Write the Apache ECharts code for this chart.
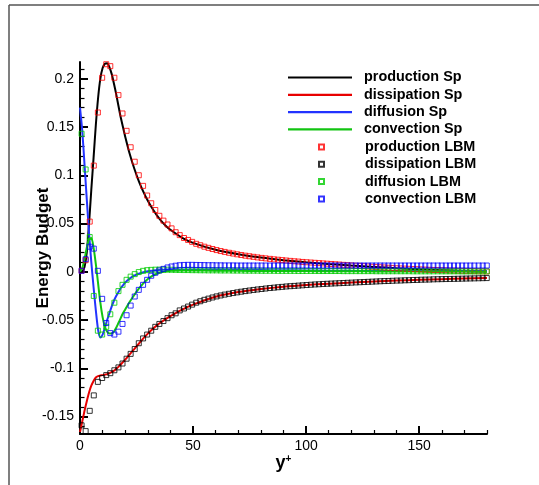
<!DOCTYPE html>
<html>
<head>
<meta charset="utf-8">
<script src="https://cdn.jsdelivr.net/npm/echarts@6/dist/echarts.min.js"></script>
<style>
html,body{margin:0;padding:0;background:#fff;}
#c{width:539px;height:485px;}
</style>
</head>
<body>
<div id="c"></div>
<script>
// ---- Data ----
const seriesNames = ['production Sp','dissipation Sp','diffusion Sp','convection Sp',
                     'production LBM','dissipation LBM','diffusion LBM','convection LBM'];

// Reference (Sp) curves: y+ positions and values
const spX = [0,1,2,3,4,5,6,7,8,9,10,11,12,13,14,15,16,17,18,19,20,22,24,26,28,30,32,34,36,38,40,45,50,60,70,80,90,100,110,120,130,140,150,160,170,180];
const productionSp = [0,0.0005,0.005,0.02,0.05,0.085,0.118,0.152,0.18,0.2,0.211,0.2155,0.216,0.212,0.205,0.195,0.184,0.172,0.16,0.15,0.14,0.122,0.107,0.094,0.083,0.0735,0.0655,0.0585,0.0525,0.0475,0.0435,0.0355,0.03,0.0228,0.0182,0.0147,0.012,0.0098,0.008,0.0064,0.005,0.0037,0.0026,0.0017,0.0009,0.0003];
const dissipationSp = [-0.166,-0.155,-0.144,-0.134,-0.125,-0.118,-0.113,-0.1095,-0.108,-0.1075,-0.107,-0.1065,-0.106,-0.105,-0.104,-0.1025,-0.1005,-0.0985,-0.096,-0.0935,-0.091,-0.0855,-0.08,-0.0745,-0.069,-0.064,-0.0595,-0.0555,-0.052,-0.0488,-0.046,-0.0395,-0.034,-0.0258,-0.021,-0.0179,-0.0155,-0.0137,-0.0123,-0.0112,-0.0101,-0.0091,-0.0083,-0.0076,-0.007,-0.0065];
const diffusionSp = [0.17,0.146,0.111,0.075,0.04,0.01,-0.016,-0.04,-0.06,-0.068,-0.065,-0.058,-0.05,-0.043,-0.036,-0.03,-0.025,-0.021,-0.017,-0.014,-0.011,-0.007,-0.004,-0.002,-0.0005,0.0005,0.0012,0.0017,0.002,0.0022,0.0024,0.0025,0.0025,0.0023,0.002,0.0018,0.0016,0.0014,0.0012,0.001,0.0009,0.0008,0.0007,0.0006,0.0005,0.0005];
const convectionSp = [0,0.004,0.013,0.025,0.034,0.035,0.025,0.008,-0.012,-0.032,-0.047,-0.057,-0.062,-0.064,-0.064,-0.062,-0.058,-0.053,-0.048,-0.043,-0.039,-0.031,-0.024,-0.0175,-0.012,-0.0075,-0.0042,-0.002,-0.0005,0.0005,0.001,0.0013,0.0013,0.0012,0.001,0.0009,0.0008,0.0007,0.0006,0.0005,0.0004,0.0003,0.0003,0.0002,0.0002,0.0001];

// LBM sample points
const lbmX = [0.7,2.5,4.3,6.1,7.9,9.8,11.6,13.4,15.2,17.0,18.8,20.6,22.4,24.2,26.0,27.9,29.7,31.5,33.3,35.1,
  36.9,38.7,40.5,42.3,44.1,46.0,47.8,49.6,51.4,53.2,55.0,56.8,58.6,60.4,62.2,64.0,65.9,67.7,69.5,71.3,
  73.1,74.9,76.7,78.5,80.3,82.1,84.0,85.8,87.6,89.4,91.2,93.0,94.8,96.6,98.4,100.2,102.1,103.9,105.7,107.5,
  109.3,111.1,112.9,114.7,116.5,118.3,120.1,122.0,123.8,125.6,127.4,129.2,131.0,132.8,134.6,136.4,138.2,140.1,141.9,143.7,
  145.5,147.3,149.1,150.9,152.7,154.5,156.3,158.2,160.0,161.8,163.6,165.4,167.2,169.0,170.8,172.6,174.4,176.3,178.1,179.9];
const productionLBM = [0.001,0.012,0.052,0.11,0.165,0.201,0.215,0.213,0.201,0.183,0.164,0.146,0.129,0.114,0.1,0.089,0.079,0.071,0.064,0.058,
  0.053,0.049,0.045,0.041,0.038,0.035,0.033,0.031,0.029,0.0275,0.026,0.0248,0.0236,0.0225,0.0215,0.0206,0.0197,0.0189,0.0181,0.0174,
  0.0167,0.0161,0.0155,0.0149,0.0144,0.0139,0.0134,0.0129,0.0125,0.0121,0.0117,0.0113,0.0109,0.0106,0.0102,0.0099,0.0096,0.0093,0.009,0.0087,
  0.0084,0.0081,0.0078,0.0075,0.0072,0.0069,0.0066,0.0063,0.0061,0.0058,0.0055,0.0052,0.005,0.0047,0.0045,0.0042,0.004,0.0037,0.0035,0.0033,
  0.0031,0.0029,0.0027,0.0025,0.0023,0.0021,0.0019,0.0018,0.0016,0.0015,0.0013,0.0012,0.0011,0.001,0.0009,0.0008,0.0007,0.0006,0.0005,0.0004];
const dissipationLBM = [-0.159,-0.165,-0.144,-0.128,-0.114,-0.11,-0.107,-0.105,-0.102,-0.099,-0.095,-0.09,-0.085,-0.08,-0.074,-0.069,-0.065,-0.061,-0.057,-0.054,
  -0.051,-0.048,-0.045,-0.043,-0.04,-0.038,-0.036,-0.034,-0.032,-0.0305,-0.029,-0.0278,-0.0266,-0.0255,-0.0245,-0.0236,-0.0228,-0.022,-0.0213,-0.0206,
  -0.02,-0.0194,-0.0188,-0.0183,-0.0178,-0.0173,-0.0168,-0.0164,-0.016,-0.0156,-0.0152,-0.0149,-0.0146,-0.0143,-0.014,-0.0137,-0.0134,-0.0131,-0.0129,-0.0126,
  -0.0124,-0.0122,-0.012,-0.0118,-0.0116,-0.0114,-0.0112,-0.011,-0.0108,-0.0106,-0.0104,-0.0102,-0.01,-0.0098,-0.0096,-0.0095,-0.0093,-0.0091,-0.009,-0.0088,
  -0.0087,-0.0085,-0.0084,-0.0082,-0.0081,-0.008,-0.0078,-0.0077,-0.0076,-0.0075,-0.0074,-0.0073,-0.0072,-0.0071,-0.007,-0.0069,-0.0068,-0.0067,-0.0066,-0.0065];
const diffusionLBM = [0.143,0.106,0.036,-0.025,-0.061,-0.065,-0.057,-0.044,-0.032,-0.02,-0.0135,-0.0083,-0.005,-0.0024,-0.0003,0.001,0.0017,0.002,0.0022,0.0023,
  0.0023,0.0022,0.0021,0.002,0.0019,0.0018,0.0018,0.0017,0.0017,0.0016,0.0016,0.0015,0.0015,0.0015,0.0014,0.0014,0.0014,0.0013,0.0013,0.0013,
  0.0012,0.0012,0.0012,0.0012,0.0011,0.0011,0.0011,0.0011,0.001,0.001,0.001,0.001,0.001,0.0009,0.0009,0.0009,0.0009,0.0009,0.0008,0.0008,
  0.0008,0.0008,0.0008,0.0008,0.0007,0.0007,0.0007,0.0007,0.0007,0.0007,0.0007,0.0007,0.0006,0.0006,0.0006,0.0006,0.0006,0.0006,0.0006,0.0006,
  0.0006,0.0005,0.0005,0.0005,0.0005,0.0005,0.0005,0.0005,0.0005,0.0005,0.0005,0.0005,0.0005,0.0004,0.0004,0.0004,0.0004,0.0004,0.0004,0.0004];
const convectionLBM = [0.001,0.013,0.026,0.024,0.001,-0.028,-0.053,-0.0635,-0.065,-0.062,-0.054,-0.045,-0.035,-0.0256,-0.0187,-0.0135,-0.0083,-0.0041,-0.001,0.0014,
  0.003,0.0045,0.0055,0.0063,0.0068,0.0071,0.0072,0.0072,0.0071,0.007,0.0069,0.0068,0.0068,0.0067,0.0067,0.0066,0.0066,0.0066,0.0065,0.0065,
  0.0065,0.0065,0.0065,0.0065,0.0065,0.0065,0.0065,0.0065,0.0065,0.0065,0.0065,0.0065,0.0065,0.0065,0.0065,0.0065,0.0065,0.0065,0.0065,0.0065,
  0.0065,0.0065,0.0065,0.0065,0.0065,0.0065,0.0065,0.0065,0.0065,0.0065,0.0065,0.0065,0.0065,0.0065,0.0065,0.0065,0.0065,0.0065,0.0065,0.0065,
  0.0065,0.0065,0.0065,0.0065,0.0065,0.0065,0.0065,0.0065,0.0065,0.0065,0.0065,0.0065,0.0065,0.0065,0.0065,0.0065,0.0065,0.0065,0.0065,0.0065];

// Axis ticks
const xMajorTicks = [0,50,100,150];
const xMinorTicks = [10,20,30,40,60,70,80,90,110,120,130,140,160,170,180];
const yMajorTicks = [-0.15,-0.1,-0.05,0,0.05,0.1,0.15,0.2];
const yMinorTicks = [-0.16,-0.14,-0.13,-0.12,-0.11,-0.09,-0.08,-0.07,-0.06,-0.04,-0.03,-0.02,-0.01,
  0.01,0.02,0.03,0.04,0.06,0.07,0.08,0.09,0.11,0.12,0.13,0.14,0.16,0.17,0.18,0.19,0.21];

// ---- Chart ----
const FONT = "'Liberation Sans', Arial, Helvetica, sans-serif";
const C_BLACK = '#000000', C_RED = '#e80000', C_BLUE = '#2233ff', C_GREEN = '#12c412';

function pairs(xs, ys){ return xs.map((x,i)=>[x, ys[i]]); }

function lineSeries(name, ys, color){
  return { name, type:'line', xAxisIndex:0, yAxisIndex:0, data: pairs(spX, ys),
    symbol:'none', showSymbol:false, smooth:0.25, lineStyle:{color, width:2}, itemStyle:{color},
    emphasis:{disabled:true}, z:2 };
}
function lbmSeries(name, ys, color){
  return { name, type:'scatter', xAxisIndex:0, yAxisIndex:0, data: pairs(lbmX, ys),
    symbol:'rect', symbolSize:5,
    itemStyle:{color:'rgba(255,255,255,0)', borderColor:color, borderWidth:1},
    emphasis:{disabled:true}, z:3 };
}

const chart = echarts.init(document.getElementById('c'), null, {renderer:'canvas'});
const grid = {left:80, right:52, top:62, bottom:51};
const legendText = {fontFamily:FONT, fontSize:14.4, fontWeight:'bold', color:'#000', lineHeight:14,
  rich:{s:{width:7}, s2:{width:36}}};

chart.setOption({
  animation:false,
  backgroundColor:'#ffffff',
  textStyle:{fontFamily:FONT},
  grid,
  graphic:[
    {type:'line', shape:{x1:9, y1:5, x2:539, y2:5}, style:{stroke:'#555', lineWidth:1.5}},
    {type:'line', shape:{x1:9, y1:5, x2:9, y2:485}, style:{stroke:'#555', lineWidth:1.5}}
  ],
  legend:[
    { data: seriesNames.slice(0,4), orient:'vertical', left:288, top:70.5, padding:0, icon:'rect',
      itemWidth:64, itemHeight:2.2, itemGap:3.3, selectedMode:false, textStyle:legendText,
      formatter: n => '{s|}' + n },
    { data: seriesNames.slice(4), orient:'vertical', left:318, top:140, padding:0, itemWidth:5, itemHeight:5,
      itemGap:3.3, selectedMode:false, textStyle:legendText, formatter: n => '{s2|}' + n }
  ],
  xAxis:[
    { type:'value', min:0, max:180, position:'bottom',
      name:'{y|y}{p|+}', nameLocation:'middle', nameGap:20, nameMoveOverlap:false,
      nameTextStyle:{ rich:{ y:{fontFamily:FONT, fontSize:18, fontWeight:'bold', color:'#000'},
                             p:{fontFamily:FONT, fontSize:10, fontWeight:'bold', color:'#000', verticalAlign:'top', padding:[0,0,6,0]} } },
      axisLine:{show:true, onZero:false, lineStyle:{color:'#000', width:2}},
      axisTick:{show:true, inside:true, length:8, customValues:xMajorTicks, lineStyle:{color:'#000', width:2}},
      axisLabel:{show:true, customValues:xMajorTicks, margin:5, fontFamily:FONT, fontSize:14, color:'#000', formatter: v => String(v)},
      splitLine:{show:false} },
    { type:'value', min:0, max:180, position:'bottom',
      axisLine:{show:false, onZero:false},
      axisTick:{show:true, inside:true, length:4, customValues:xMinorTicks, lineStyle:{color:'#000', width:1.2}},
      axisLabel:{show:false}, splitLine:{show:false} }
  ],
  yAxis:[
    { type:'value', min:-0.168, max:0.2173, position:'left',
      name:'Energy Budget', nameLocation:'middle', nameGap:28, nameMoveOverlap:false,
      nameTextStyle:{fontFamily:FONT, fontSize:17, fontWeight:'bold', color:'#000'},
      axisLine:{show:true, onZero:false, lineStyle:{color:'#000', width:2}},
      axisTick:{show:true, inside:true, length:8, customValues:yMajorTicks, lineStyle:{color:'#000', width:2}},
      axisLabel:{show:true, customValues:yMajorTicks, margin:6, fontFamily:FONT, fontSize:14, color:'#000', formatter: v => String(v)},
      splitLine:{show:false} },
    { type:'value', min:-0.168, max:0.2173, position:'left',
      axisLine:{show:false, onZero:false},
      axisTick:{show:true, inside:true, length:4.5, customValues:yMinorTicks, lineStyle:{color:'#000', width:1.2}},
      axisLabel:{show:false}, splitLine:{show:false} }
  ],
  series:[
    lineSeries(seriesNames[0], productionSp, C_BLACK),
    lineSeries(seriesNames[1], dissipationSp, C_RED),
    lineSeries(seriesNames[2], diffusionSp, C_BLUE),
    lineSeries(seriesNames[3], convectionSp, C_GREEN),
    lbmSeries(seriesNames[4], productionLBM, '#ff0000'),
    lbmSeries(seriesNames[5], dissipationLBM, '#000000'),
    lbmSeries(seriesNames[6], diffusionLBM, '#00cc00'),
    lbmSeries(seriesNames[7], convectionLBM, '#0000ff')
  ]
});
</script>
</body>
</html>
